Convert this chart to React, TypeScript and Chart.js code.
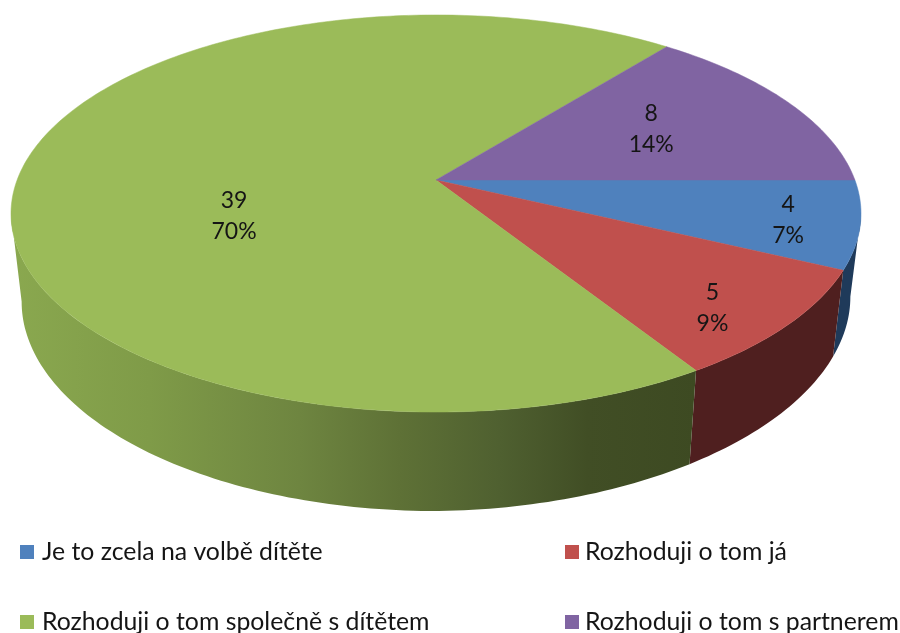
import React, { useEffect, useRef } from "react";
import { Chart, registerables } from "chart.js";

Chart.register(...registerables);

const categories = [
  "Je to zcela na volbě dítěte",
  "Rozhoduji o tom já",
  "Rozhoduji o tom společně s dítětem",
  "Rozhoduji o tom s partnerem",
];
const values = [4, 5, 39, 8];
const colors = ["#4f81bd", "#c0504d", "#9bbb59", "#8064a2"];
const wallColors = ["#1f3a5a", "#4f1f1f", "#6f8a3f", "#4d3c61"];

// perspective of the pie's disc on the page
const APEX_X = 436;
const APEX_Y = 180;
const SCALE_X = 418.9;
const SCALE_Y = 162.5;
const TILT = -0.1688;

// label placement inside each slice: radial fraction and vertical nudge
const labelPlacement = [
  { r: 0.835, dy: 3 },
  { r: 0.805, dy: 14 },
  { r: 0.485, dy: 41 },
  { r: 0.595, dy: -3 },
];

const legendSpots = [
  { x: 20, y: 552 },
  { x: 565, y: 552 },
  { x: 20, y: 622 },
  { x: 565, y: 622 },
];

function project(angle: number, radius = 1) {
  const X = radius * Math.cos(angle);
  const Y = radius * Math.sin(angle);
  const d = 1 + TILT * Y;
  return { x: APEX_X + (SCALE_X * X) / d, y: (SCALE_Y * Y + APEX_Y) / d };
}

function projectBase(angle: number) {
  const p = project(angle);
  const depth = 99 - 0.055 * (412 - p.y) - 0.012 * Math.max(0, p.x - APEX_X);
  return { x: APEX_X + 0.975 * (p.x - APEX_X), y: p.y + depth };
}

function arcPoints(start: number, end: number, fn: (a: number) => { x: number; y: number }) {
  const n = Math.max(2, Math.ceil(((end - start) * 180) / Math.PI));
  const out = [];
  for (let i = 0; i <= n; i++) out.push(fn(start + ((end - start) * i) / n));
  return out;
}

const pie3d = {
  id: "pie3d",
  beforeDatasetDraw(chart: any) {
    const ctx = chart.ctx as CanvasRenderingContext2D;
    const arcs = chart.getDatasetMeta(0).data;
    ctx.save();

    // side walls run between the two silhouette points of the disc
    const edge = Math.asin(-TILT);
    const order = [0, 1, 2];
    for (const i of order) {
      const a = arcs[i];
      const start = Math.max(a.startAngle, edge);
      const end = Math.min(a.endAngle, Math.PI - edge);
      if (end <= start) continue;
      const top = arcPoints(start, end, (t) => project(t));
      const base = arcPoints(start, end, projectBase).reverse();
      ctx.beginPath();
      [...top, ...base].forEach((p, k) => (k ? ctx.lineTo(p.x, p.y) : ctx.moveTo(p.x, p.y)));
      ctx.closePath();
      if (i === 2) {
        const g = ctx.createLinearGradient(12, 0, 697, 0);
        g.addColorStop(0, "#8aa84f");
        g.addColorStop(0.2, "#7f9b48");
        g.addColorStop(0.42, "#6e8540");
        g.addColorStop(0.566, "#5e7136");
        g.addColorStop(0.712, "#4f6030");
        g.addColorStop(0.84, "#414e25");
        g.addColorStop(1, "#3d4a22");
        ctx.fillStyle = g;
      } else {
        ctx.fillStyle = wallColors[i];
      }
      ctx.fill();
    }

    // top surface
    arcs.forEach((a: any, i: number) => {
      const pts = arcPoints(a.startAngle, a.endAngle, (t) => project(t));
      ctx.beginPath();
      ctx.moveTo(APEX_X, APEX_Y);
      pts.forEach((p) => ctx.lineTo(p.x, p.y));
      ctx.closePath();
      ctx.fillStyle = colors[i];
      ctx.strokeStyle = colors[i];
      ctx.lineWidth = 0.5;
      ctx.fill();
      ctx.stroke();
    });

    // value and share labels
    const total = values.reduce((s, v) => s + v, 0);
    ctx.fillStyle = "#151515";
    ctx.font = '23px Lato, "Open Sans", sans-serif';
    ctx.textAlign = "center";
    ctx.textBaseline = "middle";
    arcs.forEach((a: any, i: number) => {
      const mid = (a.startAngle + a.endAngle) / 2;
      const place = labelPlacement[i];
      const p = project(mid, place.r);
      ctx.fillText(String(values[i]), p.x, p.y + place.dy - 15.5);
      ctx.fillText(Math.round((values[i] / total) * 100) + "%", p.x, p.y + place.dy + 15.5);
    });

    // legend
    ctx.textAlign = "left";
    ctx.font = '24.8px Lato, "Open Sans", sans-serif';
    categories.forEach((c, i) => {
      const s = legendSpots[i];
      ctx.fillStyle = colors[i];
      ctx.fillRect(s.x, s.y - 7, 14, 14);
      ctx.fillStyle = "#151515";
      ctx.fillText(c, s.x + (i % 2 ? 20 : 22), s.y);
    });

    ctx.restore();
    return false;
  },
};

export default function App() {
  const ref = useRef<HTMLCanvasElement>(null);
  useEffect(() => {
    const chart = new Chart(ref.current!, {
      type: "pie",
      data: {
        labels: categories,
        datasets: [{ data: values, backgroundColor: colors, borderWidth: 0 }],
      },
      options: {
        responsive: false,
        animation: false,
        rotation: 90,
        plugins: { legend: { display: false }, tooltip: { enabled: false } },
      },
      plugins: [pie3d],
    } as any);
    return () => chart.destroy();
  }, []);
  return (
    <canvas
      ref={ref}
      width={900}
      height={633}
      style={{ position: "absolute", left: 0, top: 0, width: 900, height: 633, background: "#fff", filter: "blur(0.5px)" }}
    />
  );
}
